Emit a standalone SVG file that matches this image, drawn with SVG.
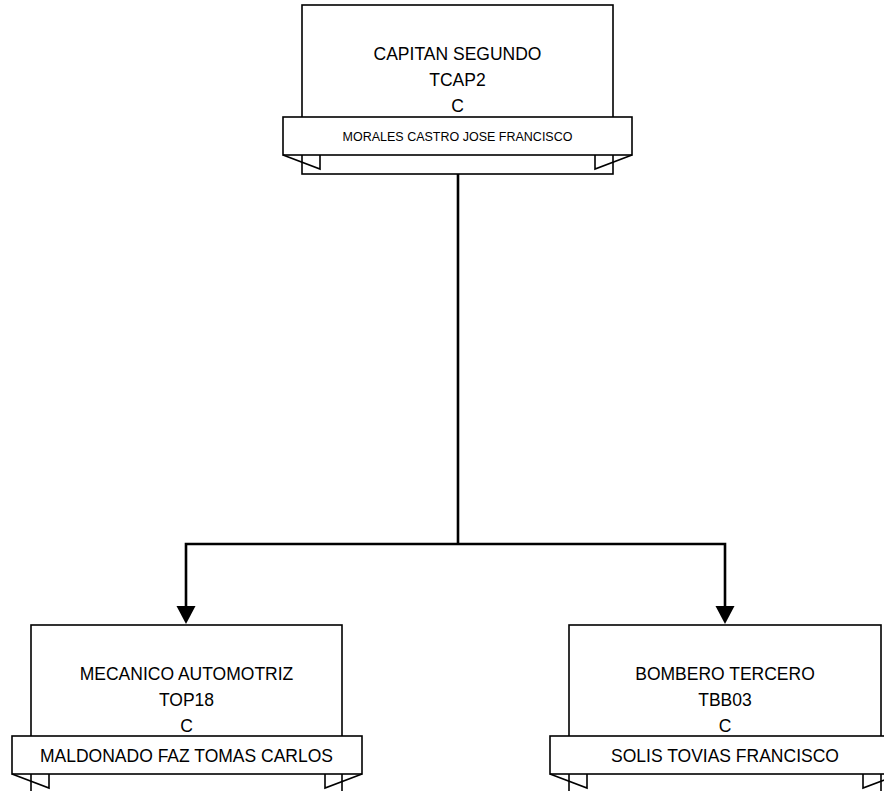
<svg xmlns="http://www.w3.org/2000/svg" width="884" height="791" viewBox="0 0 884 791">
<style>
.box{fill:#fff;stroke:#000;stroke-width:1.6}
.ban{fill:#fff;stroke:#000;stroke-width:1.6;stroke-linejoin:miter}
.tail{fill:none;stroke:#000;stroke-width:1.6}
.t{font-family:"Liberation Sans",Arial,sans-serif;font-size:17.5px;fill:#000;text-anchor:middle}
.bt{font-family:"Liberation Sans",Arial,sans-serif;font-size:12.5px;fill:#000;text-anchor:middle}
.bt2{font-family:"Liberation Sans",Arial,sans-serif;font-size:17.5px;fill:#000;text-anchor:middle}
.con{fill:none;stroke:#000;stroke-width:2.6}
.ah{fill:#000}
</style>
<g id="connectors">
<path class="con" d="M458 174 V544 H186 V607 M458 544 H725 V607"/>
<polygon class="ah" points="176.5,606 195.5,606 186,624"/>
<polygon class="ah" points="715.5,606 734.5,606 725,624"/>
</g>
<g id="node-capitan">
<rect class="box" x="302" y="5" width="311" height="169"/>
<text class="t" x="457.5" y="60">CAPITAN SEGUNDO</text>
<text class="t" x="457.5" y="86">TCAP2</text>
<text class="t" x="457.5" y="112">C</text>
<rect class="ban" x="283" y="117" width="349" height="38"/>
<path class="tail" d="M283 155 L320 169 V155 M632 155 L595 169 V155"/>
<text class="bt" x="457.5" y="141">MORALES CASTRO JOSE FRANCISCO</text>
</g>
<g id="node-mecanico">
<rect class="box" x="31" y="625" width="311" height="175"/>
<text class="t" x="186.5" y="680">MECANICO AUTOMOTRIZ</text>
<text class="t" x="186.5" y="706">TOP18</text>
<text class="t" x="186.5" y="732">C</text>
<rect class="ban" x="12" y="736" width="350" height="38"/>
<path class="tail" d="M12 774 L49 788 V774 M362 774 L325 788 V774"/>
<text class="bt2" x="186.5" y="762">MALDONADO FAZ TOMAS CARLOS</text>
</g>
<g id="node-bombero">
<rect class="box" x="569" y="625" width="312" height="175"/>
<text class="t" x="725" y="680">BOMBERO TERCERO</text>
<text class="t" x="725" y="706">TBB03</text>
<text class="t" x="725" y="732">C</text>
<rect class="ban" x="550" y="736" width="350" height="38"/>
<path class="tail" d="M550 774 L587 788 V774 M900 774 L863 788 V774"/>
<text class="bt2" x="725" y="762">SOLIS TOVIAS FRANCISCO</text>
</g>
</svg>
